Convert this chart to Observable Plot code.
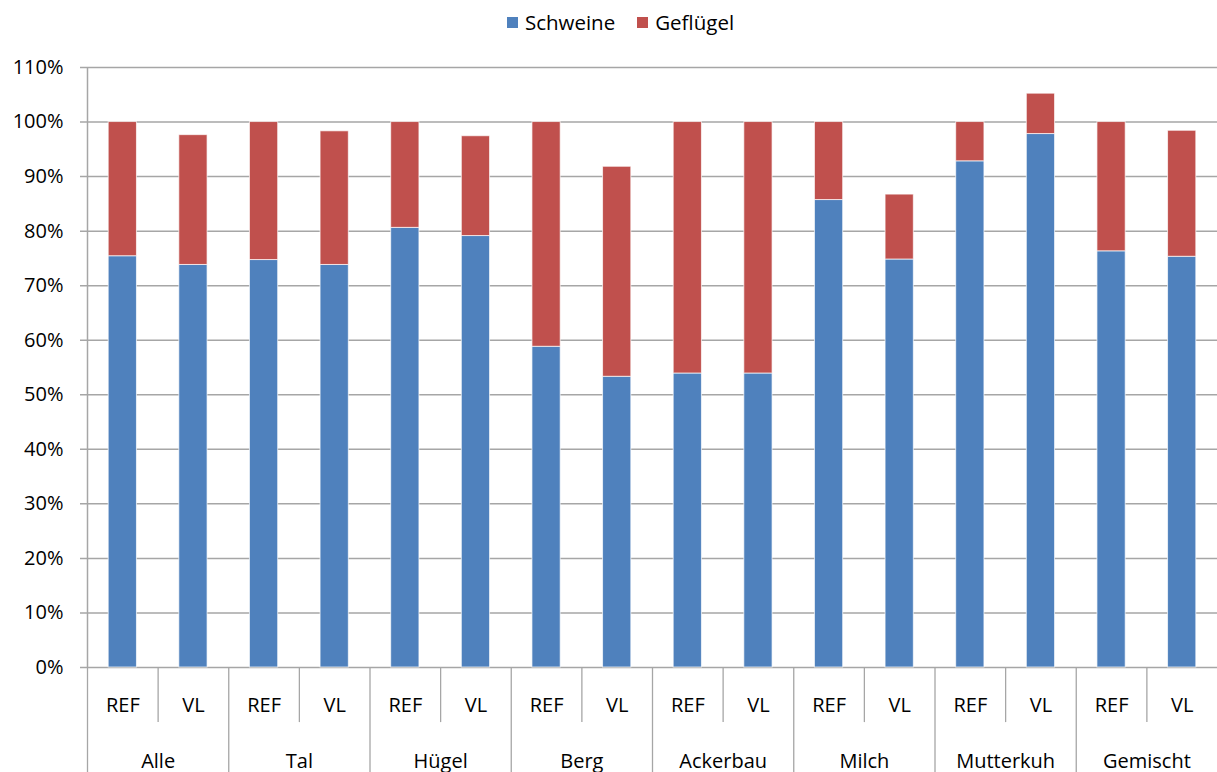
<!DOCTYPE html>
<html>
<head>
<meta charset="utf-8">
<script src="https://cdn.jsdelivr.net/npm/d3@7"></script>
<script src="https://cdn.jsdelivr.net/npm/@observablehq/plot@0.6"></script>
<style>
  html, body { margin: 0; padding: 0; background: #fff; overflow: hidden; }
  #legend { height: 44px; display: flex; justify-content: center; align-items: center;
            font-family: "Open Sans", sans-serif; font-size: 20.5px; color: #000; padding-left: 24px; box-sizing: border-box; }
  #legend .item { display: flex; align-items: center; margin: 0 11px; }
  #legend .sw { width: 11px; height: 11px; margin-right: 7px; }
</style>
</head>
<body>
<div id="legend"></div>
<div id="chart"></div>
<script>
const groups = ["Alle", "Tal", "Hügel", "Berg", "Ackerbau", "Milch", "Mutterkuh", "Gemischt"];
const variants = ["REF", "VL"];
const series = ["Schweine", "Geflügel"];
const colors = ["#4F81BD", "#C0504D"];
// percent shares, order: Alle REF, Alle VL, Tal REF, Tal VL, ...
const schweine = [75.4, 73.8, 74.7, 73.8, 80.6, 79.1, 58.8, 53.3, 53.9, 53.9, 85.7, 74.8, 92.8, 97.8, 76.3, 75.3];
const gefluegel = [24.6, 23.8, 25.3, 24.5, 19.4, 18.3, 41.2, 38.5, 46.1, 46.1, 14.3, 11.9, 7.2, 7.4, 23.7, 23.1];
const yTicks = [0, 10, 20, 30, 40, 50, 60, 70, 80, 90, 100, 110];

const keys = groups.flatMap(g => variants.map(v => g + "|" + v));
const rows = [];
keys.forEach((k, i) => {
  rows.push({key: k, series: series[0], value: schweine[i]});
  rows.push({key: k, series: series[1], value: gefluegel[i]});
});

// legend
const legend = document.getElementById("legend");
series.forEach((s, i) => {
  const it = document.createElement("div");
  it.className = "item";
  const sw = document.createElement("div");
  sw.className = "sw";
  sw.style.background = colors[i];
  const t = document.createElement("span");
  t.textContent = s;
  it.appendChild(sw); it.appendChild(t);
  legend.appendChild(it);
});

const W = 1217, ML = 87, MR = 0;
const step = (W - ML - MR) / keys.length;
const gridColor = "#a6a6a6";

const chart = Plot.plot({
  width: W,
  height: 728,
  marginTop: 23,
  marginBottom: 105,
  marginLeft: ML,
  marginRight: MR,
  style: {fontFamily: "Open Sans, sans-serif", fontSize: "20px", color: "#000", background: "white", overflow: "visible"},
  x: {domain: keys, paddingInner: 0.6, paddingOuter: 0.3, round: false, tickSize: 0, tickPadding: 30,
      tickFormat: d => d.split("|")[1], label: null},
  y: {domain: [0, 110], ticks: yTicks, tickFormat: d => d + "%", tickSize: 0, tickPadding: 24, label: null},
  color: {domain: series, range: colors},
  marks: [
    Plot.ruleY(yTicks, {stroke: gridColor, strokeWidth: 1.5, insetLeft: -7}),
    Plot.barY(rows, {x: "key", y: "value", fill: "series", stroke: "white", strokeWidth: 1, strokeOpacity: 0.7}),
    Plot.ruleX([keys[0]], {dx: -step / 2, y1: 0, y2: 110, stroke: gridColor, strokeWidth: 1.5}),
    Plot.ruleX(groups, {x: g => g + "|REF", dx: -step / 2, y1: 0, y2: -19.6, stroke: gridColor, strokeWidth: 1.3}),
    Plot.ruleX(groups, {x: g => g + "|VL", dx: -step / 2, y1: 0, y2: -10.1, stroke: gridColor, strokeWidth: 1.3}),
    Plot.text(groups, {x: g => g + "|VL", y: 0, text: d => d, dx: -step / 2, dy: 86, lineAnchor: "top", fill: "#000"})
  ]
});
document.getElementById("chart").appendChild(chart);
</script>
</body>
</html>
